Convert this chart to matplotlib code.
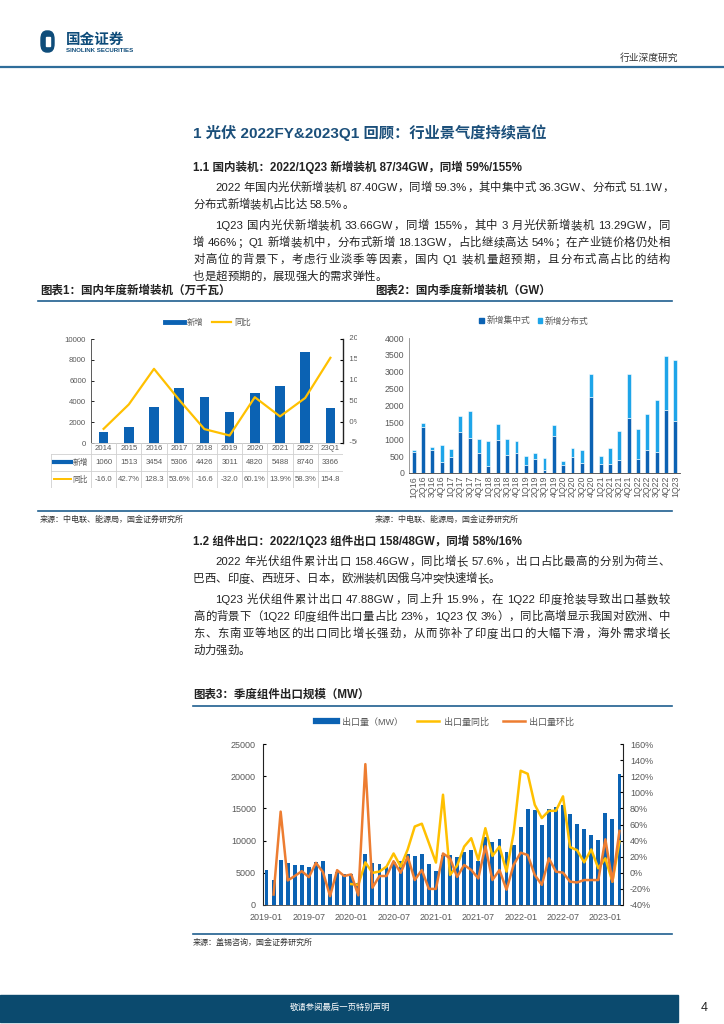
import re
import matplotlib
matplotlib.use('Agg')
import matplotlib.pyplot as plt
from matplotlib.lines import Line2D
from matplotlib.patches import Rectangle, FancyBboxPatch
from matplotlib.transforms import Bbox, TransformedBbox

plt.rcParams['font.family'] = ['Liberation Sans', 'Noto Sans CJK SC', 'DejaVu Sans']

W, H = 724, 1024
BLUE = '#0b62b3'
LIGHT = '#1ea5e9'
YELLOW = '#ffc000'
ORANGE = '#ed7d31'
NAVY = '#1f5f8f'
GRAY = '#595959'

# chart 1: annual additions (10 MW)
YEARS = ['2014', '2015', '2016', '2017', '2018', '2019', '2020', '2021', '2022', '23Q1']
NEW_ADD = [1060, 1513, 3454, 5306, 4426, 3011, 4820, 5488, 8740, 3366]
YOY = [-16.0, 42.7, 128.3, 53.6, -16.6, -32.0, 60.1, 13.9, 58.3, 154.8]
YOY_TXT = ['-16.0', '42.7%', '128.3', '53.6%', '-16.6', '-32.0', '60.1%', '13.9%', '58.3%', '154.8']
YOY_TICKS = [-50, 0, 50, 100, 150, 200]
YOY_TICK_TXT = ['-50%', '0%', '50%', '100%', '150%', '200%']

# chart 2: quarterly additions
QUARTERS = ['1Q16', '2Q16', '3Q16', '4Q16', '1Q17', '2Q17', '3Q17', '4Q17', '1Q18', '2Q18',
            '3Q18', '4Q18', '1Q19', '2Q19', '3Q19', '4Q19', '1Q20', '2Q20', '3Q20', '4Q20',
            '1Q21', '2Q21', '3Q21', '4Q21', '1Q22', '2Q22', '3Q22', '4Q22', '1Q23']
CENTRAL = [610, 1375, 670, 340, 460, 1220, 1050, 580, 195, 985, 530, 580, 245, 425, 80,
           1100, 225, 480, 285, 2260, 255, 275, 375, 1640, 420, 690, 620, 1880, 1550]
DISTRIB = [80, 100, 115, 495, 255, 470, 790, 420, 755, 470, 470, 375, 265, 165, 370,
           315, 140, 255, 405, 670, 255, 460, 865, 1280, 885, 1060, 1540, 1580, 1790]

# chart 3: monthly module exports
EXPORT_MW = [5500, 3950, 7050, 6450, 6150, 6250, 5850, 6750, 6800, 4850, 5100, 4750,
             4750, 3350, 7950, 6550, 6300, 5900, 6600, 6800, 7950, 7650, 7900, 6400,
             5300, 7800, 7750, 7400, 8300, 8550, 6900, 10600, 9850, 10250, 8250, 9300,
             12050, 14900, 14750, 12450, 14900, 15250, 15550, 14150, 12600, 11750, 10800, 10100,
             14350, 13350, 20350]
EXPORT_YOY = [None] * 12 + [-14, -15, 13, 0, 1.5, 7.7, 24, 7.7, 29, 57.5, 61, 37,
                            12.7, 97, -2.7, 9, 32.6, 43, 16, 55.4, 21, 32.6, 1.5, 49,
                            126.8, 123, 84.5, 68, 77, 77, 95, 32, 28, 13, 29, 5.6,
                            18, -11, 39]
EXPORT_MOM = [None, -27, 76, -9.5, -4, 2, -5.4, 12.4, 0.8, -29, 3.3, -4,
              -2, -28, 135, -18.5, -4, -4, 14.4, 0, 20, -9, 3.5, -20,
              -20, 24, 18, -5, 9.7, 3.5, -7, 33, -9, 3.5, -21, 9.7,
              25, 22, -2.7, -15, 18, 1.4, 0.2, -11, -12, -9, -9, -9,
              41.6, -11, 52]
EXPORT_TICK_POS = [0, 6, 12, 18, 24, 30, 36, 42, 48]
EXPORT_TICK_TXT = ['2019-01', '2019-07', '2020-01', '2020-07', '2021-01', '2021-07',
                   '2022-01', '2022-07', '2023-01']

# body text: (x, y, text, justified)
BODY1 = [
    (215, 187, '2022 年国内光伏新增装机 87.40GW，同增 59.3%，其中集中式 36.3GW、分布式 51.1W，', True),
    (193, 204, '分布式新增装机占比达 58.5%。', False),
    (215, 225, '1Q23 国内光伏新增装机 33.66GW，同增 155%，其中 3 月光伏新增装机 13.29GW，同', True),
    (193, 242, '增 466%；Q1 新增装机中，分布式新增 18.13GW，占比继续高达 54%；在产业链价格仍处相', True),
    (193, 259, '对高位的背景下，考虑行业淡季等因素，国内 Q1 装机量超预期，且分布式高占比的结构', True),
    (193, 276, '也是超预期的，展现强大的需求弹性。', False),
]
BODY2 = [
    (215, 561, '2022 年光伏组件累计出口 158.46GW，同比增长 57.6%，出口占比最高的分别为荷兰、', True),
    (193, 578, '巴西、印度、西班牙、日本，欧洲装机因俄乌冲突快速增长。', False),
    (215, 599, '1Q23 光伏组件累计出口 47.88GW，同上升 15.9%，在 1Q22 印度抢装导致出口基数较', True),
    (193, 616, '高的背景下（1Q22 印度组件出口量占比 23%，1Q23 仅 3%），同比高增显示我国对欧洲、中', True),
    (193, 633, '东、东南亚等地区的出口同比增长强劲，从而弥补了印度出口的大幅下滑，海外需求增长', True),
    (193, 650, '动力强劲。', False),
]
RIGHT_EDGE = 670


def fx(x):
    return x / W


def fy(y):
    return 1 - y / H


def box(x0, y0, x1, y1):
    return [fx(x0), fy(y1), (x1 - x0) / W, (y1 - y0) / H]


def hline(fig, x0, x1, y, color=NAVY, lw=1.2):
    fig.add_artist(Line2D([fx(x0), fx(x1)], [fy(y), fy(y)], color=color, lw=lw))


def txt(fig, x, y, s, **kw):
    kw.setdefault('va', 'center')
    return fig.text(fx(x), fy(y), s, **kw)


def body_line(fig, renderer, x, y, s, justify, fs=8.2):
    # single CJK glyphs and ascii runs, placed one by one so the line is justified
    tokens = [m.group() for m in re.finditer(r' +|[\x21-\x7e]+|[^\x00-\x7f]', s)]
    space_w = fs * 100 / 72 * 0.28
    base = y + 4
    items = []
    natural = 0.0
    for tok in tokens:
        if tok.startswith(' '):
            natural += space_w * len(tok)
            items.append((tok, None))
            continue
        t = txt(fig, x, base, tok, fontsize=fs, color='#222222', ha='left', va='baseline')
        w = t.get_window_extent(renderer).width
        natural += w
        items.append((tok, (t, w)))
    n = sum(1 for it in items if it[1] is not None)
    gap = 0.0
    if justify and n > 1:
        gap = max(0.0, (RIGHT_EDGE - x - natural) / (n - 1))
    cx = x
    for tok, info in items:
        if info is None:
            cx += space_w * len(tok)
            continue
        t, w = info
        t.set_x(fx(cx))
        cx += w + gap


fig = plt.figure(figsize=(7.24, 10.24), dpi=100)
renderer = fig.canvas.get_renderer()

# ---- page header ----
fig.add_artist(FancyBboxPatch((fx(41), fy(52)), 13 / W, 21 / H,
                              boxstyle='round,pad=0,rounding_size=0.008',
                              color='#0e4c7a', transform=fig.transFigure))
fig.add_artist(Rectangle((fx(46), fy(46)), 4 / W, 9 / H, color='white', transform=fig.transFigure))
txt(fig, 66, 40, '国金证券', fontsize=10.5, fontweight='bold', color='#0e4c7a')
txt(fig, 66, 50, 'SINOLINK SECURITIES', fontsize=4.4, fontweight='bold', color='#0e4c7a')
txt(fig, 620, 58, '行业深度研究', fontsize=7, color='#333333')
hline(fig, 0, 724, 67, color='#2f6d9a', lw=1.6)

# ---- section 1 ----
txt(fig, 193, 133, '1 光伏 2022FY&2023Q1 回顾：行业景气度持续高位', fontsize=11,
    fontweight='bold', color='#1b4f7a')
txt(fig, 193, 167, '1.1 国内装机：2022/1Q23 新增装机 87/34GW，同增 59%/155%', fontsize=8.3,
    fontweight='bold', color='#222222')
for x, y, s, j in BODY1:
    body_line(fig, renderer, x, y, s, j)

txt(fig, 40, 291, '图表1：国内年度新增装机（万千瓦）', fontsize=8.3, fontweight='bold',
    color='#222222')
txt(fig, 375, 291, '图表2：国内季度新增装机（GW）', fontsize=8.3, fontweight='bold',
    color='#222222')
hline(fig, 38, 672, 301)

# ---- chart 1 ----
ax1 = fig.add_axes(box(91, 339, 343, 443))
xs = list(range(len(YEARS)))
ax1.bar(xs, NEW_ADD, width=0.38, color=BLUE, zorder=2)
ax1.set_xlim(-0.5, len(YEARS) - 0.5)
ax1.set_ylim(0, 10000)
ax1.set_yticks([0, 2000, 4000, 6000, 8000, 10000])
ax1.set_xticks([])
ax1.tick_params(axis='y', labelsize=5.6, labelcolor=GRAY, direction='in', length=2, width=0.6)
ax1.spines['top'].set_visible(False)
ax1.spines['right'].set_visible(False)
ax1.spines['left'].set_color('#404040')
ax1.spines['left'].set_linewidth(0.6)
ax1.spines['bottom'].set_color('#bfbfbf')
ax1.spines['bottom'].set_linewidth(0.6)

ax1b = ax1.twinx()
ax1b.plot(xs, YOY, color=YELLOW, lw=1.6, zorder=3)
ax1b.set_ylim(-50, 200)
ax1b.set_yticks(YOY_TICKS)
ax1b.set_yticklabels([])
ax1b.tick_params(axis='y', direction='in', length=2, width=0.8)
for s in ['top', 'left', 'bottom']:
    ax1b.spines[s].set_visible(False)
ax1b.spines['right'].set_color('#222222')
ax1b.spines['right'].set_linewidth(1.0)
clip = TransformedBbox(Bbox.from_extents(fx(340), fy(460), fx(357), fy(320)), fig.transFigure)
for v, s in zip(YOY_TICKS, YOY_TICK_TXT):
    t = ax1b.text(1.0, v, '   ' + s, transform=ax1b.get_yaxis_transform(), ha='left',
                  va='center', fontsize=5.6, color=GRAY)
    t.set_clip_box(clip)
    t.set_clip_on(True)

fig.legend(handles=[Line2D([], [], color=BLUE, lw=3.5), Line2D([], [], color=YELLOW, lw=1.6)],
           labels=['新增', '同比'], loc='center', bbox_to_anchor=(fx(208), fy(323)), ncol=2,
           frameon=False, fontsize=6, handlelength=2.2, columnspacing=1.0, handletextpad=0.4,
           labelcolor=GRAY)

# table under chart 1
axt = fig.add_axes(box(51, 443, 343, 488))
lab_w = 40 / 25.2
L = -0.5 - lab_w
axt.set_xlim(L, len(YEARS) - 0.5)
axt.set_ylim(45, 0)
axt.axis('off')
tc = '#d0d0d0'
for yl in [11, 28, 45]:
    axt.plot([L, len(YEARS) - 0.5], [yl, yl], color=tc, lw=0.6)
for k in range(len(YEARS) + 1):
    axt.plot([k - 0.5, k - 0.5], [0, 45], color=tc, lw=0.6)
axt.plot([L, L], [11, 45], color=tc, lw=0.6)
for i, (yr, v, yt) in enumerate(zip(YEARS, NEW_ADD, YOY_TXT)):
    axt.text(i, 5.5, yr, ha='center', va='center', fontsize=5.6, color=GRAY)
    axt.text(i, 19.5, str(v), ha='center', va='center', fontsize=5.6, color=GRAY)
    axt.text(i, 36.5, yt, ha='center', va='center', fontsize=5.6, color=GRAY)
axt.plot([L + 0.12, L + 0.8], [18.5, 18.5], color=BLUE, lw=3)
axt.text(L + 0.85, 19.5, '新增', ha='left', va='center', fontsize=5.6, color=GRAY)
axt.plot([L + 0.12, L + 0.8], [35.5, 35.5], color=YELLOW, lw=1.4)
axt.text(L + 0.85, 36.5, '同比', ha='left', va='center', fontsize=5.6, color=GRAY)

# ---- chart 2 ----
ax2 = fig.add_axes(box(409, 338, 680, 473))
qx = list(range(len(QUARTERS)))
ax2.bar(qx, CENTRAL, width=0.42, color=BLUE, edgecolor='white', linewidth=0.4, zorder=2)
ax2.bar(qx, DISTRIB, bottom=CENTRAL, width=0.42, color=LIGHT, edgecolor='white',
        linewidth=0.4, zorder=2)
ax2.set_xlim(-0.5, len(QUARTERS) - 0.5)
ax2.set_ylim(0, 4000)
ax2.set_yticks(range(0, 4001, 500))
ax2.set_xticks(qx)
ax2.set_xticklabels(QUARTERS, rotation=90)
ax2.tick_params(axis='y', labelsize=6.3, labelcolor=GRAY, length=0)
ax2.tick_params(axis='x', labelsize=6.3, labelcolor=GRAY, length=0, pad=2)
for s in ['top', 'right']:
    ax2.spines[s].set_visible(False)
ax2.spines['left'].set_color('#8c8c8c')
ax2.spines['left'].set_linewidth(0.6)
ax2.spines['bottom'].set_color('#404040')
ax2.spines['bottom'].set_linewidth(0.6)
fig.legend(handles=[Rectangle((0, 0), 1, 1, color=BLUE), Rectangle((0, 0), 1, 1, color=LIGHT)],
           labels=['新增集中式', '新增分布式'], loc='center', bbox_to_anchor=(fx(534), fy(321)),
           ncol=2, frameon=False, fontsize=6.3, handlelength=0.5, handleheight=0.5,
           columnspacing=0.9, handletextpad=0.3, labelcolor=GRAY)

# sources
hline(fig, 38, 672, 511)
txt(fig, 40, 520, '来源：中电联、能源局，国金证券研究所', fontsize=5.8, color='#333333')
txt(fig, 375, 520, '来源：中电联、能源局，国金证券研究所', fontsize=5.8, color='#333333')

# ---- section 1.2 ----
txt(fig, 193, 541, '1.2 组件出口：2022/1Q23 组件出口 158/48GW，同增 58%/16%', fontsize=8.3,
    fontweight='bold', color='#222222')
for x, y, s, j in BODY2:
    body_line(fig, renderer, x, y, s, j)
txt(fig, 193, 695, '图表3：季度组件出口规模（MW）', fontsize=8.3, fontweight='bold',
    color='#222222')
hline(fig, 193, 672, 706)

# ---- chart 3 ----
ax3 = fig.add_axes(box(263, 744, 623, 905))
mx = list(range(len(EXPORT_MW)))
ax3.bar(mx, EXPORT_MW, width=0.55, color=BLUE, zorder=2)
ax3.set_xlim(-0.5, len(EXPORT_MW) - 0.5)
ax3.set_ylim(0, 25000)
ax3.set_yticks(range(0, 25001, 5000))
ax3.set_xticks(EXPORT_TICK_POS)
ax3.set_xticklabels(EXPORT_TICK_TXT)
ax3.tick_params(axis='y', labelsize=6.5, labelcolor=GRAY, direction='in', length=2.5, width=0.8,
                pad=5)
ax3.tick_params(axis='x', labelsize=6.5, labelcolor=GRAY, direction='in', length=2, pad=6)
for s in ['top', 'right']:
    ax3.spines[s].set_visible(False)
ax3.spines['left'].set_color('#222222')
ax3.spines['bottom'].set_color('#404040')
ax3.spines['bottom'].set_linewidth(0.6)

ax3b = ax3.twinx()
ax3b.plot(mx, EXPORT_YOY, color=YELLOW, lw=1.8, zorder=3)
ax3b.plot(mx, EXPORT_MOM, color=ORANGE, lw=1.8, zorder=4)
ax3b.set_ylim(-40, 160)
ax3b.set_yticks(range(-40, 161, 20))
ax3b.set_yticklabels([f'{v}%' for v in range(-40, 161, 20)])
ax3b.tick_params(axis='y', labelsize=6.5, labelcolor=GRAY, direction='in', length=2.5, width=0.8,
                 pad=5)
for s in ['top', 'left', 'bottom']:
    ax3b.spines[s].set_visible(False)
ax3b.spines['right'].set_color('#222222')

fig.legend(handles=[Line2D([], [], color=BLUE, lw=4.5), Line2D([], [], color=YELLOW, lw=1.8),
                    Line2D([], [], color=ORANGE, lw=1.8)],
           labels=['出口量（MW）', '出口量同比', '出口量环比'], loc='center',
           bbox_to_anchor=(fx(445), fy(722)), ncol=3, frameon=False, fontsize=6.5,
           handlelength=2.4, columnspacing=1.6, handletextpad=0.5, labelcolor=GRAY)

hline(fig, 193, 672, 934)
txt(fig, 193, 943, '来源：盖锡咨询，国金证券研究所', fontsize=5.8, color='#333333')

# ---- footer ----
fig.add_artist(Rectangle((0, fy(1022)), fx(678), 27 / H, color='#0b4a6e', transform=fig.transFigure))
txt(fig, 340, 1008, '敬请参阅最后一页特别声明', fontsize=6, color='white', ha='center')
txt(fig, 704, 1008, '4', fontsize=9, color='#222222', ha='center')

fig.savefig('out.png', dpi=100)
